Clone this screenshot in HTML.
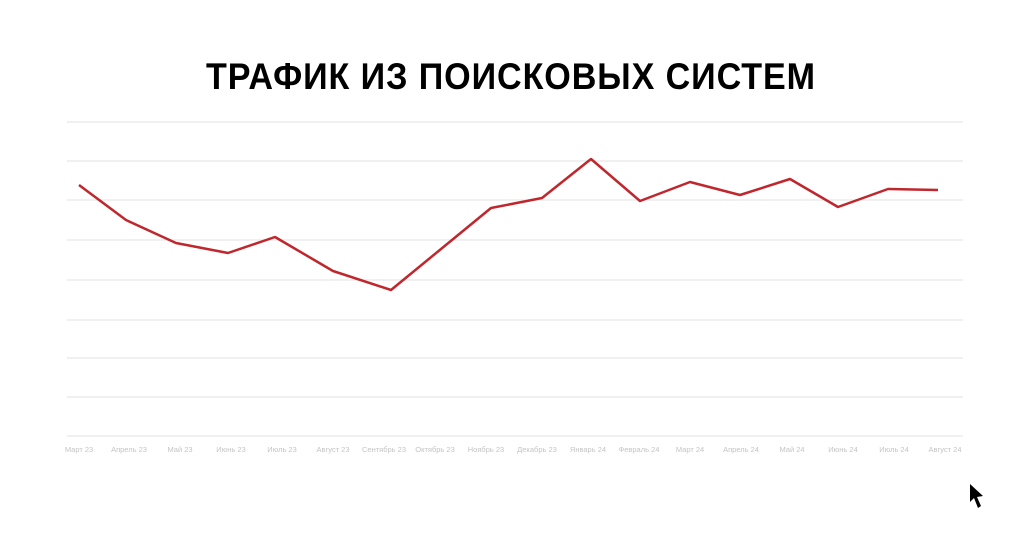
<!DOCTYPE html>
<html><head><meta charset="utf-8"><style>
html,body{margin:0;padding:0;background:#fff;width:1024px;height:548px;overflow:hidden}
</style></head><body>
<svg width="1024" height="548" xmlns="http://www.w3.org/2000/svg">
<text x="511" y="89" text-anchor="middle" font-family="Liberation Sans, sans-serif" font-weight="bold" font-size="37" letter-spacing="1" textLength="610" lengthAdjust="spacingAndGlyphs" fill="#000">ТРАФИК ИЗ ПОИСКОВЫХ СИСТЕМ</text>
<g stroke="#ececec" stroke-width="1.5">
<line x1="67" x2="963" y1="122" y2="122"/><line x1="67" x2="963" y1="161" y2="161"/>
<line x1="67" x2="963" y1="200" y2="200"/><line x1="67" x2="963" y1="240" y2="240"/>
<line x1="67" x2="963" y1="280" y2="280"/><line x1="67" x2="963" y1="320" y2="320"/>
<line x1="67" x2="963" y1="358" y2="358"/><line x1="67" x2="963" y1="397" y2="397"/>
<line x1="67" x2="963" y1="436" y2="436"/>
</g>
<polyline fill="none" stroke="#c0272d" stroke-width="2.5" stroke-linejoin="round" points="79,185 126,220 176,243 228,253 275,237 333,271 391,290 441,249 491,208 542,198 591,159 640,201 690,182 740,195 790,179 838,207 888,189 938,190"/>
<g font-family="Liberation Sans, sans-serif" font-size="7.5" fill="#c4c4c4" text-anchor="middle">
<text x="79" y="452">Март 23</text><text x="129" y="452">Апрель 23</text><text x="180" y="452">Май 23</text>
<text x="231" y="452">Июнь 23</text><text x="282" y="452">Июль 23</text><text x="333" y="452">Август 23</text>
<text x="384" y="452">Сентябрь 23</text><text x="435" y="452">Октябрь 23</text><text x="486" y="452">Ноябрь 23</text>
<text x="537" y="452">Декабрь 23</text><text x="588" y="452">Январь 24</text><text x="639" y="452">Февраль 24</text>
<text x="690" y="452">Март 24</text><text x="741" y="452">Апрель 24</text><text x="792" y="452">Май 24</text>
<text x="843" y="452">Июнь 24</text><text x="894" y="452">Июль 24</text><text x="945" y="452">Август 24</text>
</g>
<path d="M970,484 L970,502 L974,498 L978,508 L981,506 L977,497 L983,496 Z" fill="#000"/>
</svg>
</body></html>
